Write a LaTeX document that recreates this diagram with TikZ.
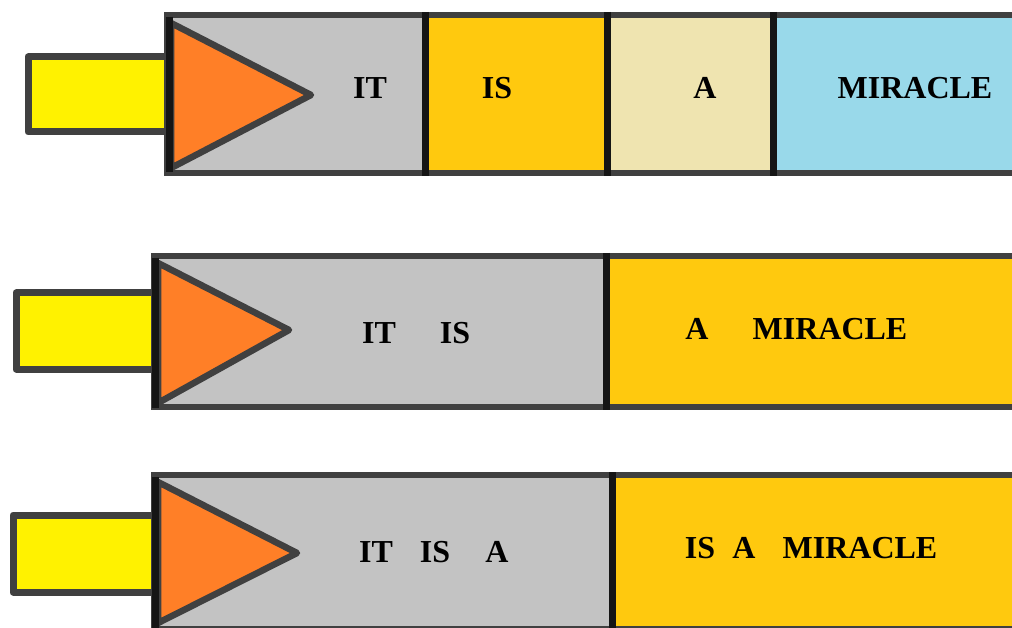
\documentclass[tikz,border=0pt]{standalone}
\usepackage{fontspec}
\setmainfont{Liberation Serif}
\definecolor{edge}{HTML}{404040}
\definecolor{divline}{HTML}{151515}
\definecolor{pgray}{HTML}{C3C3C3}
\definecolor{pyellow}{HTML}{FFF200}
\definecolor{porange}{HTML}{FF7F27}
\definecolor{pgold}{HTML}{FFC90E}
\definecolor{pbeige}{HTML}{EFE4B0}
\definecolor{pblue}{HTML}{99D9EA}
\tikzset{
  border/.style={draw=edge, line width=6.5pt},
  divider/.style={draw=divline, line width=7pt},
  handle/.style={fill=pyellow, draw=edge, line width=7pt, line join=round},
  wedge/.style={fill=porange, draw=edge, line width=6.5pt, line join=round},
  word/.style={font=\bfseries\fontsize{32}{34}\selectfont, inner sep=0pt, text=black},
}
\begin{document}
\begin{tikzpicture}[x=1pt,y=-1pt]
\clip (0,0) rectangle (1012,628);
\fill[white] (0,0) rectangle (1012,628);

% ---------- Row 1 ----------
\draw[handle] (168,57) -- (28,57) -- (28,132) -- (168,132);
\fill[pgray]  (167,15) rectangle (425,173);
\fill[pgold]  (425,15) rectangle (607,173);
\fill[pbeige] (607,15) rectangle (773,173);
\fill[pblue]  (773,15) rectangle (1030,173);
\draw[border] (1030,15) -- (167,15) -- (167,173) -- (1030,173);
\draw[divider] (425,12) -- (425,176);
\draw[divider] (607,12) -- (607,176);
\draw[divider] (773,12) -- (773,176);
\draw[wedge] (171,23) -- (311,95) -- (171,168) -- cycle;
\draw[divider] (169,17) -- (169,172);
\node[word] (r1it) at (370,88) {IT};
\node[word] (r1is) at (497,88) {IS};
\node[word] (r1a)  at (705,88) {A};
\node[word] (r1m)  at (915,88) {MIRACLE};

% ---------- Row 2 ----------
\draw[handle] (156,293) -- (16,293) -- (16,369) -- (156,369);
\fill[pgray]  (154,256) rectangle (606,407);
\fill[pgold]  (606,256) rectangle (1030,407);
\draw[border] (1030,256) -- (154,256) -- (154,407) -- (1030,407);
\draw[divider] (606,253) -- (606,410);
\draw[wedge] (158,263) -- (289,330) -- (158,403) -- cycle;
\draw[divider] (155,258) -- (155,408);
\node[word] (r2it) at (379,333) {IT};
\node[word] (r2is) at (455,333) {IS};
\node[word] (r2a)  at (697,329) {A};
\node[word] (r2m)  at (830,329) {MIRACLE};

% ---------- Row 3 ----------
\draw[handle] (156,515) -- (13,515) -- (13,592) -- (156,592);
\fill[pgray]  (154,475) rectangle (612,629);
\fill[pgold]  (612,475) rectangle (1030,629);
\draw[border] (1030,475) -- (154,475) -- (154,629) -- (1030,629);
\draw[divider] (612,472) -- (612,632);
\draw[wedge] (158,482) -- (297,553) -- (158,623) -- cycle;
\draw[divider] (155,477) -- (155,632);
\node[word] (r3it) at (376,552) {IT};
\node[word] (r3is) at (435,552) {IS};
\node[word] (r3a)  at (497,552) {A};
\node[word] (r3is2) at (700,548) {IS};
\node[word] (r3a2)  at (744,548) {A};
\node[word] (r3m)   at (860,548) {MIRACLE};
\end{tikzpicture}
\end{document}
